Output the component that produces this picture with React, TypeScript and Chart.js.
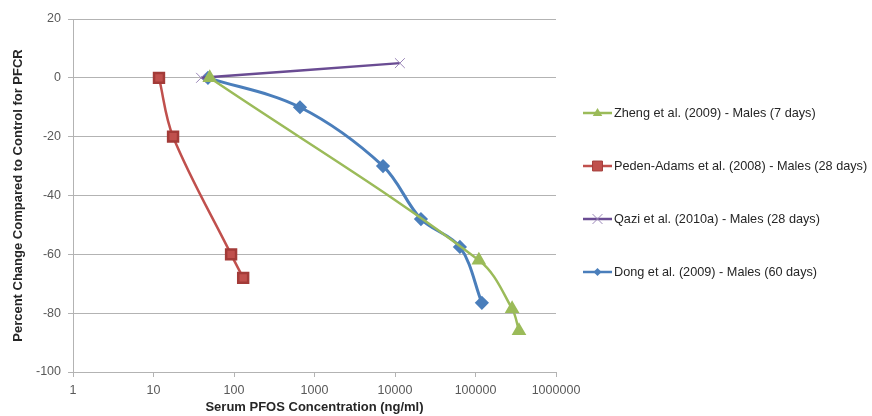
import React, { useEffect, useRef } from "react";
import { Chart, registerables } from "chart.js";

Chart.register(...registerables);

const seriesNames = [
  "Zheng et al. (2009) - Males (7 days)",
  "Peden-Adams et al. (2008) - Males (28 days)",
  "Qazi et al. (2010a) - Males (28 days)",
  "Dong et al. (2009) - Males (60 days)",
];

const zhengX = [50, 110000, 285000, 347000];
const zhengY = [0, -62, -78.5, -86];

const pedenX = [11.7, 17.5, 92, 130];
const pedenY = [0, -20, -60, -68];

const qaziX = [39, 11500];
const qaziY = [0, 5];

const dongX = [47.5, 660, 7100, 21000, 64000, 120000];
const dongY = [0, -10, -30, -48, -57.5, -76.5];

const xTickValues = [1, 10, 100, 1000, 10000, 100000, 1000000];
const yTickMin = -100;
const yTickMax = 20;
const yTickStep = 20;

const xTitle = "Serum PFOS Concentration (ng/ml)";
const yTitle = "Percent Change Compared to Control for PFCR";

const zip = (xs: number[], ys: number[]) => xs.map((x, i) => ({ x, y: ys[i] }));

const colors = {
  green: "#9BBB59",
  red: "#C0504D",
  purpleLine: "#6A4C93",
  purpleMarker: "#9A86B8",
  blue: "#4A7EBB",
  grid: "#B3B3B3",
  tick: "#595959",
  title: "#262626",
};

const FONT = "'Liberation Sans', Arial, sans-serif";

function drawMarker(ctx: CanvasRenderingContext2D, style: string, x: number, y: number, r: number, fill: string, stroke: string) {
  ctx.save();
  ctx.fillStyle = fill;
  ctx.strokeStyle = stroke;
  ctx.lineWidth = 1;
  ctx.beginPath();
  if (style === "triangle") {
    ctx.moveTo(x, y - r);
    ctx.lineTo(x + r * 0.95, y + r * 0.6);
    ctx.lineTo(x - r * 0.95, y + r * 0.6);
    ctx.closePath();
    ctx.fill();
  } else if (style === "rect") {
    const s = r * Math.SQRT1_2;
    ctx.rect(x - s, y - s, 2 * s, 2 * s);
    ctx.fill();
    ctx.stroke();
  } else if (style === "rectRot") {
    ctx.moveTo(x, y - r);
    ctx.lineTo(x + r, y);
    ctx.lineTo(x, y + r);
    ctx.lineTo(x - r, y);
    ctx.closePath();
    ctx.fill();
  } else if (style === "crossRot") {
    const s = r * Math.SQRT1_2;
    ctx.moveTo(x - s, y - s);
    ctx.lineTo(x + s, y + s);
    ctx.moveTo(x + s, y - s);
    ctx.lineTo(x - s, y + s);
    ctx.stroke();
  }
  ctx.restore();
}

const legendPlugin = {
  id: "excelLegend",
  afterDraw(chart: any) {
    const ctx: CanvasRenderingContext2D = chart.ctx;
    const ds = chart.data.datasets;
    ctx.save();
    ds.forEach((d: any, i: number) => {
      const y = 113 + i * 53;
      ctx.strokeStyle = d.borderColor;
      ctx.lineWidth = 2.5;
      ctx.beginPath();
      ctx.moveTo(583, y);
      ctx.lineTo(612, y);
      ctx.stroke();
      drawMarker(ctx, d.pointStyle, 597.5, y, d.legendRadius, d.pointBackgroundColor, d.pointBorderColor);
      ctx.fillStyle = "#262626";
      ctx.font = `12.7px ${FONT}`;
      ctx.textBaseline = "middle";
      ctx.textAlign = "left";
      ctx.fillText(d.label, 614, y + 0.5);
    });
    ctx.restore();
  },
};

export default function App() {
  const ref = useRef<HTMLCanvasElement | null>(null);

  useEffect(() => {
    if (!ref.current) return;
    const chart = new Chart(ref.current, {
      type: "line",
      data: {
        datasets: [
          {
            label: seriesNames[0],
            data: zip(zhengX, zhengY),
            borderColor: colors.green,
            backgroundColor: colors.green,
            pointBackgroundColor: colors.green,
            pointBorderColor: colors.green,
            pointStyle: "triangle",
            pointRadius: 6,
            borderWidth: 2.5,
            tension: 0.35,
            legendRadius: 5,
          } as any,
          {
            label: seriesNames[1],
            data: zip(pedenX, pedenY),
            borderColor: colors.red,
            backgroundColor: colors.red,
            pointBackgroundColor: colors.red,
            pointBorderColor: "#A33B38",
            pointStyle: "rect",
            pointRadius: 7,
            borderWidth: 2.5,
            tension: 0.35,
            legendRadius: 7,
          } as any,
          {
            label: seriesNames[2],
            data: zip(qaziX, qaziY),
            borderColor: colors.purpleLine,
            backgroundColor: colors.purpleMarker,
            pointBackgroundColor: colors.purpleMarker,
            pointBorderColor: colors.purpleMarker,
            pointStyle: "crossRot",
            pointRadius: 7,
            pointBorderWidth: 1,
            borderWidth: 2.5,
            tension: 0.35,
            legendRadius: 7,
          } as any,
          {
            label: seriesNames[3],
            data: zip(dongX, dongY),
            borderColor: colors.blue,
            backgroundColor: colors.blue,
            pointBackgroundColor: colors.blue,
            pointBorderColor: colors.blue,
            pointStyle: "rectRot",
            pointRadius: 5,
            borderWidth: 3,
            tension: 0.35,
            legendRadius: 4,
          } as any,
        ],
      },
      options: {
        responsive: false,
        animation: false,
        layout: { padding: { left: 8, right: 316, top: 19, bottom: 0 } },
        plugins: {
          legend: { display: false },
          tooltip: { enabled: false },
        },
        scales: {
          x: {
            type: "logarithmic",
            min: 1,
            max: 1000000,
            afterBuildTicks: (s: any) => {
              s.ticks = xTickValues.map((v) => ({ value: v }));
            },
            afterFit: (s: any) => {
              s.height = 44;
            },
            ticks: {
              autoSkip: false,
              maxRotation: 0,
              color: colors.tick,
              font: { family: FONT, size: 12.5 },
              padding: 6,
              callback: (v: any) => String(v),
            },
            grid: { drawOnChartArea: false, tickLength: 5, color: colors.grid },
            border: { color: colors.grid, width: 1 },
            title: {
              display: true,
              text: xTitle,
              color: colors.title,
              font: { family: FONT, size: 13, weight: "bold" },
              padding: { top: 2, bottom: 1 },
            },
          },
          y: {
            min: yTickMin,
            max: yTickMax,
            afterFit: (s: any) => {
              s.width = 65;
            },
            ticks: {
              stepSize: yTickStep,
              color: colors.tick,
              font: { family: FONT, size: 12.5 },
              padding: 7,
            },
            grid: { color: colors.grid, tickLength: 5 },
            border: { color: colors.grid, width: 1 },
            title: {
              display: true,
              text: yTitle,
              color: colors.title,
              font: { family: FONT, size: 13, weight: "bold" },
              padding: { top: 3, bottom: 2 },
            },
          },
        },
      },
      plugins: [legendPlugin],
    });
    return () => chart.destroy();
  }, []);

  return (
    <div style={{ position: "fixed", left: 0, top: 0, width: 872, height: 416, background: "#fff" }}>
      <canvas ref={ref} width={872} height={416} style={{ display: "block", width: 872, height: 416 }} />
    </div>
  );
}
